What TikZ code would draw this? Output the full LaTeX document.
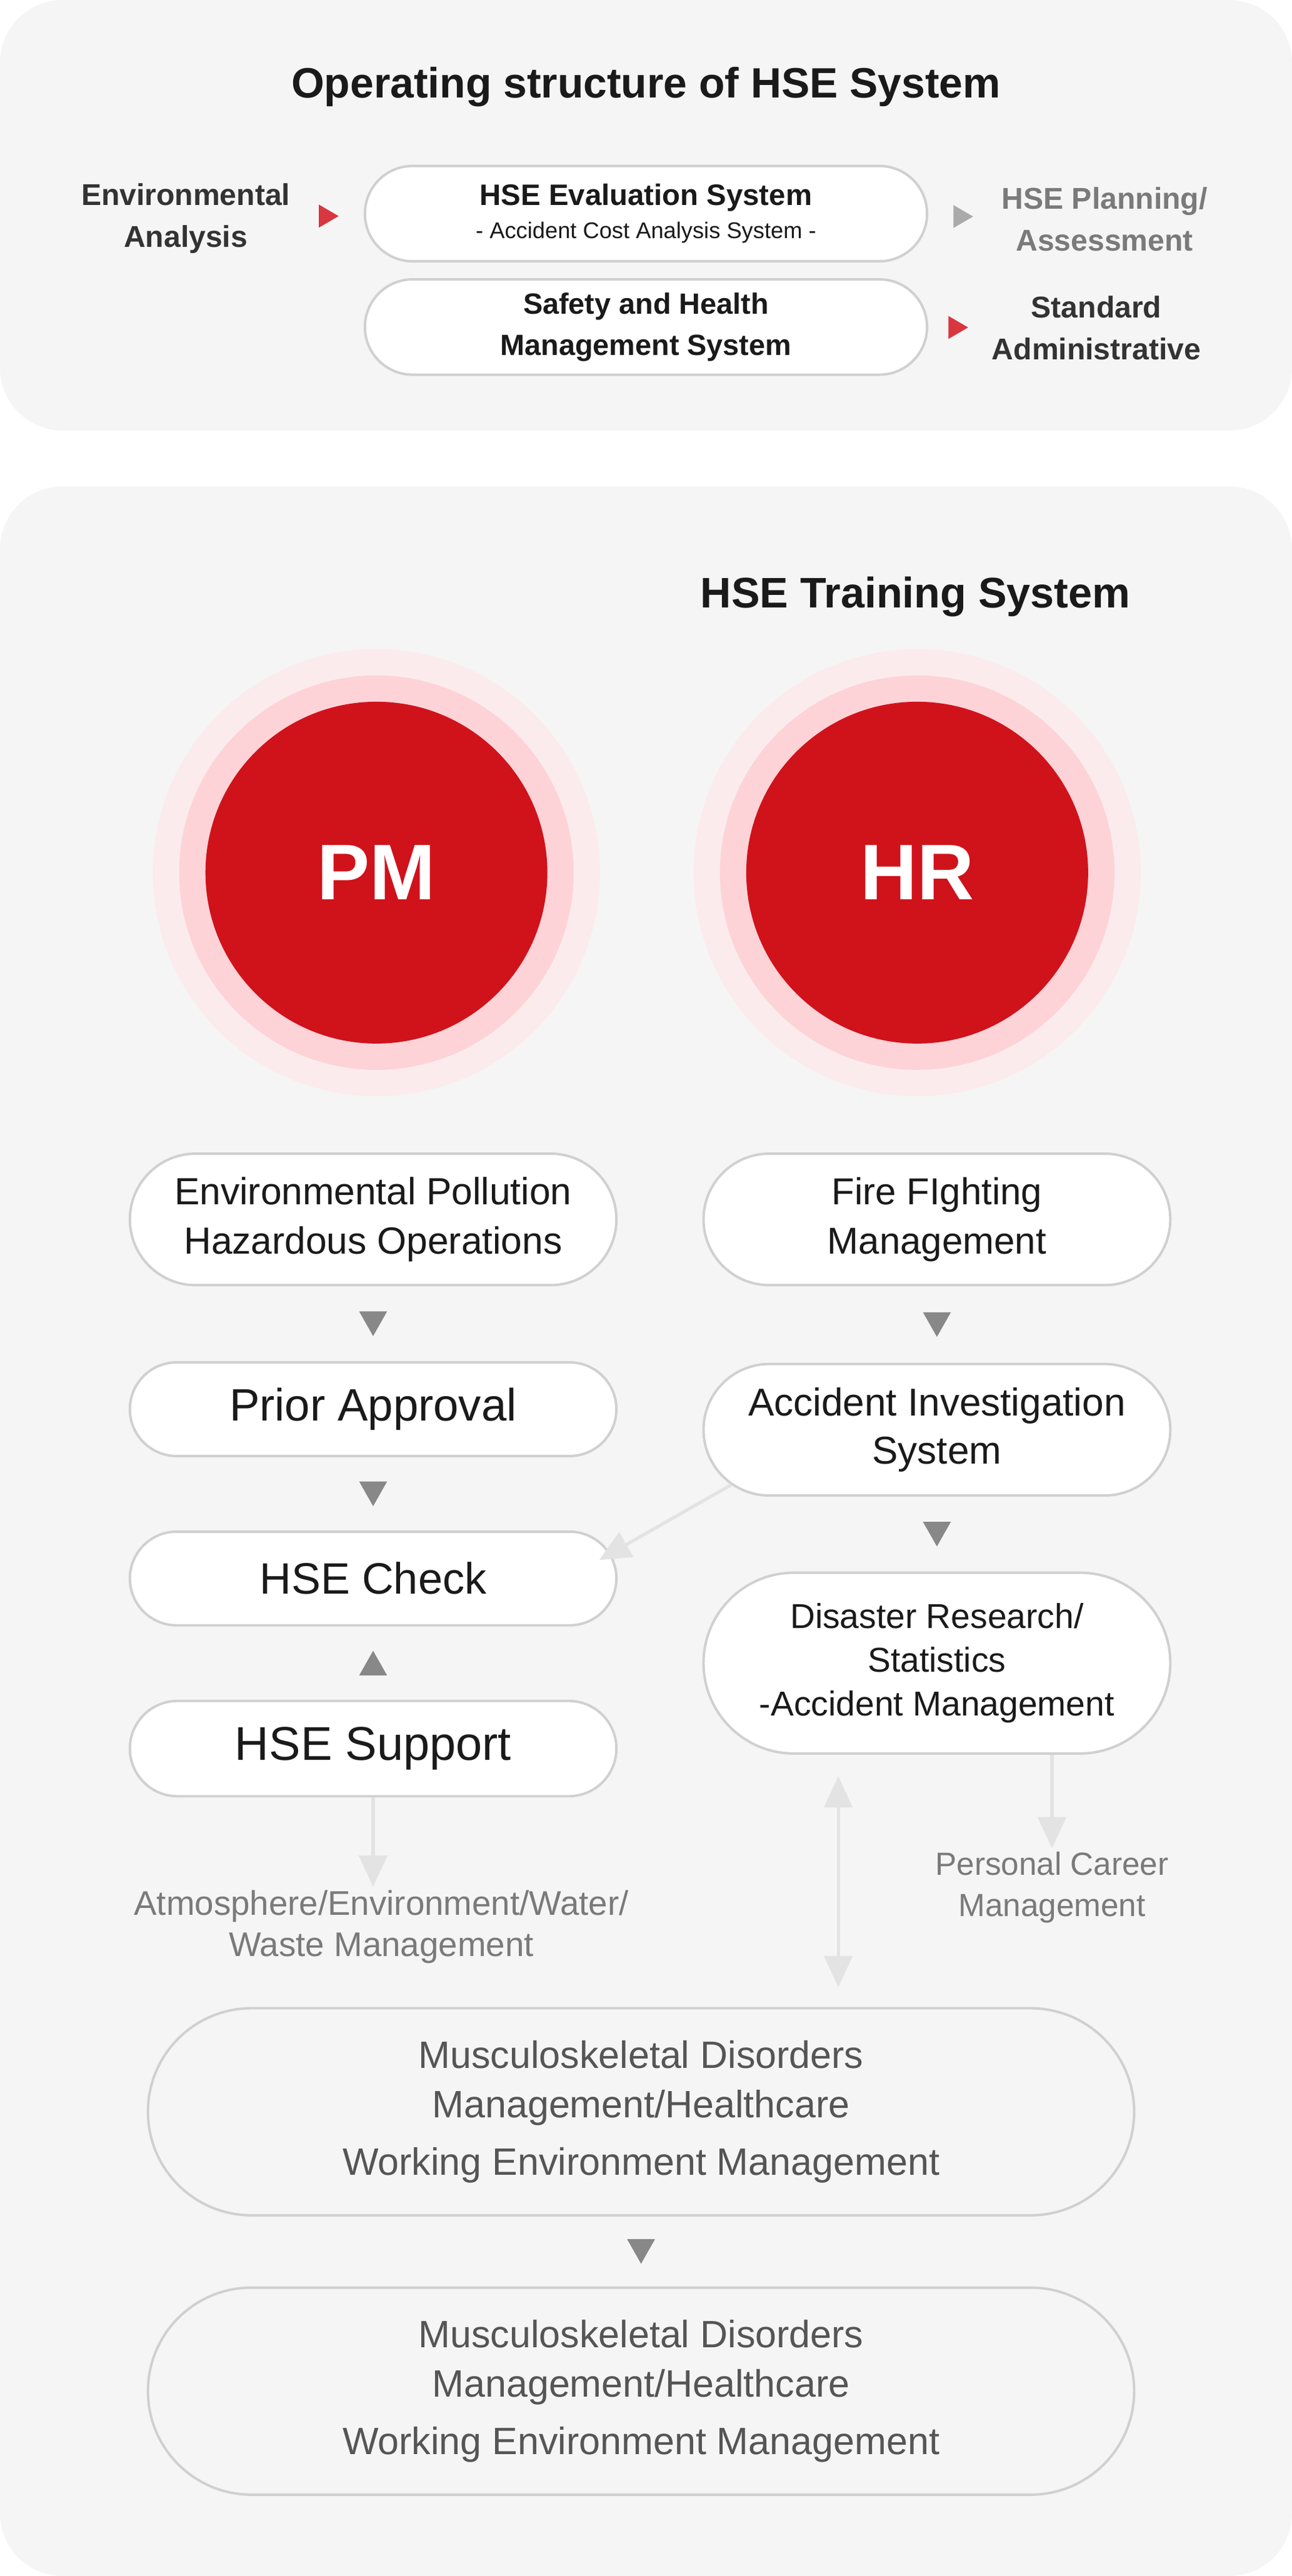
\documentclass[tikz,border=0pt]{standalone}
\usepackage{fontspec}
\setmainfont{Liberation Sans}
\usetikzlibrary{shapes.misc,arrows.meta,calc}

\definecolor{panelbg}{HTML}{F5F5F5}
\definecolor{pillline}{HTML}{D0D0D0}
\definecolor{hsered}{HTML}{D0121B}
\definecolor{ringmid}{HTML}{FDD3D7}
\definecolor{ringout}{HTML}{FBEBEC}
\definecolor{marker}{HTML}{888888}
\definecolor{lightmarker}{HTML}{AAAAAA}
\definecolor{redmark}{HTML}{D93640}
\definecolor{lightline}{HTML}{E3E3E3}
\definecolor{darktext}{HTML}{1A1A1A}
\definecolor{midtext}{HTML}{333333}
\definecolor{graytext}{HTML}{7A7A7A}
\definecolor{boxtext}{HTML}{555555}

\newcommand\fsz[2]{\fontsize{#1}{#2}\selectfont}
\newcommand\hsedownmark[1]{\fill[marker] ($(#1)+(-8.5,-7.5)$) -- ($(#1)+(8.5,-7.5)$) -- ($(#1)+(0,7.5)$) -- cycle;}
\newcommand\hseupmark[1]{\fill[marker] ($(#1)+(-8.5,7.5)$) -- ($(#1)+(8.5,7.5)$) -- ($(#1)+(0,-7.5)$) -- cycle;}
\newcommand\hserightmark[2]{\fill[#2] ($(#1)+(-6,-7)$) -- ($(#1)+(6,0)$) -- ($(#1)+(-6,7)$) -- cycle;}

\tikzset{
  pill/.style={rounded rectangle, draw=pillline, line width=1.5pt, fill=white, align=center, inner sep=0pt, text=darktext},
  lbox/.style={pill, minimum width=296pt},
  rbox/.style={pill, minimum width=284pt},
  bigbox/.style={pill, fill=panelbg, minimum width=600pt, minimum height=126pt, text=boxtext, font=\fsz{23.2}{30}},
  paneltitle/.style={font=\bfseries\fsz{25.8}{30}, text=darktext},
  toplabel/.style={align=center, font=\bfseries\fsz{18.3}{25.5}, text=midtext, inner sep=2pt},
  graylabel/.style={align=center, font=\fsz{20}{25}, text=graytext, inner sep=2pt},
  unitcircle/.style={circle, fill=hsered, minimum size=208pt, inner sep=0pt, text=white, font=\bfseries\fsz{48}{48}},
  lightarrow/.style={draw=lightline, line width=2pt, -{Triangle[width=17pt,length=19pt]}},
}

\begin{document}
\begin{tikzpicture}[x=1pt,y=-1pt]
\useasboundingbox (0,0) rectangle (786,1567.5);
% panels
\fill[panelbg, rounded corners=38pt] (0,0) rectangle (786,262);
\fill[panelbg, rounded corners=38pt] (0,296) rectangle (786,1567.5);

% operating structure
\node[paneltitle] (optitle) at (393,53) {Operating structure of HSE System};
\node[toplabel] (envan) at (113,133) {Environmental\\Analysis};
\node[pill, minimum width=342pt, minimum height=58pt, font=\fsz{18}{20}] (hseeval) at (393,130)
  {{\bfseries HSE Evaluation System}\\{\fsz{13.8}{18}- Accident Cost Analysis System -}};
\node[pill, minimum width=342pt, minimum height=58pt, font=\bfseries\fsz{17.8}{25}] (shms) at (393,199)
  {Safety and Health\\Management System};
\node[toplabel, text=graytext] (plan) at (672,133.5) {HSE Planning/\\Assessment};
\node[toplabel] (stdadm) at (667,199.5) {Standard\\Administrative};
\coordinate (m1) at ($(envan.east)!0.5!(hseeval.west)$);
\coordinate (m2) at ($(hseeval.east)!0.5!(plan.west)$);
\coordinate (m3) at ($(shms.east)!0.5!(stdadm.west)$);
\hserightmark{m1}{redmark}
\hserightmark{m2}{lightmarker}
\hserightmark{m3}{redmark}

% training system
\node[paneltitle, font=\bfseries\fsz{26}{30}] (trtitle) at (557,363) {HSE Training System};
\coordinate (pmc) at (229,531);
\coordinate (hrc) at (558,531);
\foreach \c in {pmc,hrc}{
  \fill[ringout] (\c) circle (136pt);
  \fill[ringmid] (\c) circle (120pt);
}
\node[unitcircle] (pm) at (pmc) {PM};
\node[unitcircle] (hr) at (hrc) {HR};

% PM column
\node[lbox, minimum height=80pt, font=\fsz{23}{30}] (envpol) at (227,742) {Environmental Pollution\\Hazardous Operations};
\node[lbox, minimum height=57pt, font=\fsz{27.6}{30}] (prior) at (227,857.5) {Prior Approval};
\node[lbox, minimum height=57pt, font=\fsz{26.7}{30}] (check) at (227,960.5) {HSE Check};
\node[lbox, minimum height=58pt, font=\fsz{28.8}{30}] (support) at (227,1064) {HSE Support};
\node[graylabel, font=\fsz{20.8}{25}] (atmos) at (232,1172.5) {Atmosphere/Environment/Water/\\Waste Management};

% HR column
\node[rbox, minimum height=80pt, font=\fsz{22.8}{30}] (fire) at (570,742) {Fire FIghting\\Management};
\node[rbox, minimum height=80pt, font=\fsz{23.6}{29}] (accinv) at (570,870) {Accident Investigation\\System};
\node[rbox, minimum height=110pt, font=\fsz{21}{26.5}] (disas) at (570,1012) {Disaster Research/\\Statistics\\-Accident Management};
\node[graylabel, font=\fsz{19.5}{25}] (career) at (640,1148.5) {Personal Career\\Management};

% common
\node[bigbox] (msd1) at (390,1285) {Musculoskeletal Disorders\\Management/Healthcare\\[5pt]Working Environment Management};
\node[bigbox] (msd2) at (390,1455) {Musculoskeletal Disorders\\Management/Healthcare\\[5pt]Working Environment Management};

% markers
\coordinate (t1) at ($(envpol.south)!0.5!(prior.north)$);
\coordinate (t2) at ($(prior.south)!0.5!(check.north)$);
\coordinate (t3) at ($(check.south)!0.5!(support.north)$);
\coordinate (t4) at ($(fire.south)!0.5!(accinv.north)$);
\coordinate (t5) at ($(accinv.south)!0.5!(disas.north)$);
\coordinate (t6) at ($(msd1.south)!0.5!(msd2.north)$);
\hsedownmark{t1}
\hsedownmark{t2}
\hseupmark{t3}
\hsedownmark{t4}
\hsedownmark{t5}
\hsedownmark{t6}

% connectors
\draw[lightarrow] (support.south) -- (support.south |- atmos.north);
\draw[lightarrow] ([xshift=70pt]disas.south) -- (career.north);
\draw[lightarrow, shorten >=-8pt] (accinv.195) -- (check.6);
\draw[lightarrow, {Triangle[width=17pt,length=19pt]}-{Triangle[width=17pt,length=19pt]}]
  ([xshift=-60pt,yshift=-13pt]disas.south) -- ([xshift=120pt,yshift=12pt]msd1.north);
\end{tikzpicture}
\end{document}
